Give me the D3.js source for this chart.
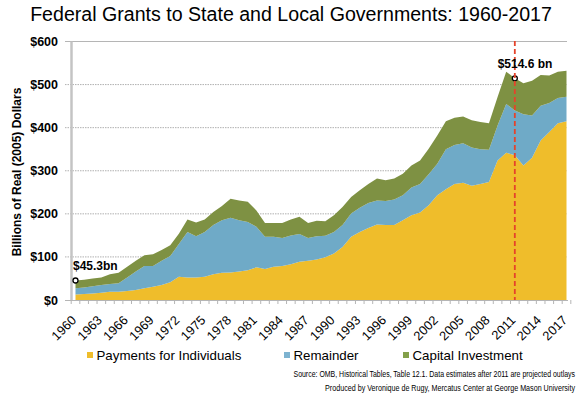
<!DOCTYPE html>
<html>
<head>
<meta charset="utf-8">
<script src="https://cdn.jsdelivr.net/npm/d3@7"></script>
<style>
  body { margin: 0; background: #fff; }
  svg { display: block; font-family: "Liberation Sans", Arial, sans-serif; }
</style>
</head>
<body>
<script>
//data (billions of real 2005 dollars)
var years = d3.range(1960, 2018);
var payments = [13,14,15,17,19,19,21,23,27,31,35,41,54,52,52,54,60,63,64,66,
                69,76,72,77,79,83,89,91,94,99,108,123,147,158,167,175,174,174,185,197,
                203,220,243,257,269,272,265,269,274,324,342,336,312,330,370,390,410,415];
var remainder = [14,15,17,18,18,20,31,43,52,48,56,61,76,106,96,104,114,122,127,119,
                 112,94,75,70,65,67,64,53,54,50,50,51,54,56,58,56,56,59,58,64,
                 66,72,73,93,91,92,89,81,75,81,113,104,119,98,81,67,59,57];
var capital = [18.3,18,18,17,23,24,25,25,25,27,25,25,24,29,32,29,30,33,44,46,
               47,38,32,32,35,37,40,35,36,34,39,42,38,41,44,51,48,49,50,51,
               55,59,66,65,63,62,63,63,61,66,75,74.6,72,81,71,64,61,60];
var seriesNames = ['Payments for Individuals', 'Remainder', 'Capital Investment'];
var seriesColors = ['#EFBD2B', '#6FAAC7', '#7E9143'];
var legendColors = ['#EFBD2B', '#7DB3D0', '#83A04A'];
var yTicks = [0, 100, 200, 300, 400, 500, 600];
var xLabels = d3.range(1960, 2018, 3);
var callouts = [{year: 1960, value: 45.3, label: '$45.3bn'}, {year: 2011, value: 514.6, label: '$514.6 bn'}];
var projectionYear = 2011;
var notes = ['Source: OMB, Historical Tables, Table 12.1. Data estimates after 2011 are projected outlays',
             'Produced by Veronique de Rugy, Mercatus Center at George Mason University'];

//chart metrics
var width = 580, height = 396;
var x = d3.scaleLinear().domain([1960, 2017]).range([75.5, 566.5]);
var y = d3.scaleLinear().domain([0, 600]).range([300, 41.5]);

var svg = d3.select('body').append('svg')
            .attr('width', width)
            .attr('height', height);

//title
svg.append('text')
    .attr('x', 291).attr('y', 21)
    .attr('text-anchor', 'middle')
    .attr('font-size', 19.6)
    .attr('fill', '#000')
    .text('Federal Grants to State and Local Governments: 1960-2017');

//gridlines
svg.selectAll('line.grid').data(yTicks.slice(1))
    .enter().append('line')
    .attr('class', 'grid')
    .attr('x1', 65).attr('x2', 567)
    .attr('y1', function(d){ return y(d); })
    .attr('y2', function(d){ return y(d); })
    .attr('stroke', function(d){ return d === 600 ? '#b5b5b5' : '#b0b0b0'; })
    .attr('stroke-width', 1)
    .attr('stroke-dasharray', function(d){ return d === 600 ? null : '1.5,1'; });

//stacked areas
var table = years.map(function(yr, i){
    return {year: yr, p: payments[i], r: remainder[i], c: capital[i]};
});
var stack = d3.stack().keys(['p', 'r', 'c']);
var layers = stack(table);
var area = d3.area()
    .x(function(d){ return x(d.data.year); })
    .y0(function(d){ return y(d[0]); })
    .y1(function(d){ return y(d[1]); });

svg.selectAll('path.layer').data(layers)
    .enter().append('path')
    .attr('class', 'layer')
    .attr('d', area)
    .attr('fill', function(d, i){ return seriesColors[i]; });

//axes
svg.append('line')
    .attr('x1', 71.5).attr('x2', 71.5)
    .attr('y1', y(600)).attr('y2', 300)
    .attr('stroke', '#c4c4c4').attr('stroke-width', 2.5);
svg.append('line')
    .attr('x1', 65).attr('x2', 568)
    .attr('y1', 300.5).attr('y2', 300.5)
    .attr('stroke', '#b5b5b5').attr('stroke-width', 1.2);

svg.selectAll('line.xtick').data(years.concat([2018]))
    .enter().append('line')
    .attr('class', 'xtick')
    .attr('x1', function(d){ return x(d) - 4.3; })
    .attr('x2', function(d){ return x(d) - 4.3; })
    .attr('y1', 300).attr('y2', 304)
    .attr('stroke', '#b5b5b5');

svg.selectAll('text.ylab').data(yTicks)
    .enter().append('text')
    .attr('class', 'ylab')
    .attr('x', 58)
    .attr('y', function(d){ return y(d); })
    .attr('dy', '0.36em')
    .attr('text-anchor', 'end')
    .attr('font-size', 12.5)
    .attr('font-weight', 'bold')
    .text(function(d){ return '$' + d; });

svg.selectAll('text.xlab').data(xLabels)
    .enter().append('text')
    .attr('class', 'xlab')
    .attr('transform', function(d){ return 'translate(' + (x(d) + 1.5) + ',321) rotate(-45)'; })
    .attr('text-anchor', 'end')
    .attr('font-size', 12.8)
    .text(function(d){ return d; });

svg.append('text')
    .attr('transform', 'translate(21,172) rotate(-90)')
    .attr('text-anchor', 'middle')
    .attr('font-size', 12)
    .attr('font-weight', 'bold')
    .text('Billions of Real (2005) Dollars');

//callouts
svg.selectAll('circle.callout').data(callouts)
    .enter().append('circle')
    .attr('class', 'callout')
    .attr('cx', function(d){ return x(d.year); })
    .attr('cy', function(d){ return y(d.value); })
    .attr('r', 2.5)
    .attr('fill', '#fff')
    .attr('stroke', '#000')
    .attr('stroke-width', 1.3);

svg.append('line')
    .attr('x1', x(projectionYear)).attr('x2', x(projectionYear))
    .attr('y1', 41).attr('y2', 300)
    .attr('stroke', '#E5432B')
    .attr('stroke-width', 1.8)
    .attr('stroke-dasharray', '5,3');

svg.append('text')
    .attr('x', 73).attr('y', 270)
    .attr('font-size', 12).attr('font-weight', 'bold')
    .text(callouts[0].label);
svg.append('text')
    .attr('x', 525).attr('y', 68)
    .attr('text-anchor', 'middle')
    .attr('font-size', 12).attr('font-weight', 'bold')
    .text(callouts[1].label);

//legend
var legendX = [87, 284, 403];
var legend = svg.selectAll('g.legend').data(seriesNames)
    .enter().append('g')
    .attr('class', 'legend')
    .attr('transform', function(d, i){ return 'translate(' + legendX[i] + ',352)'; });
legend.append('rect')
    .attr('width', 6).attr('height', 6)
    .attr('fill', function(d, i){ return legendColors[i]; });
legend.append('text')
    .attr('x', 9.5).attr('y', 8)
    .attr('font-size', 13.3)
    .text(function(d){ return d; });

//source notes, squeezed horizontally like the narrow original font
var noteWidths = [282, 250];
svg.selectAll('text.note').data(notes)
    .enter().append('text')
    .attr('class', 'note')
    .attr('text-anchor', 'end')
    .attr('font-size', 8.8)
    .text(function(d){ return d; })
    .attr('transform', function(d, i){
        var s = noteWidths[i] / this.getComputedTextLength();
        return 'translate(575,' + (377 + i * 14) + ') scale(' + s + ',1)';
    });
</script>
</body>
</html>
